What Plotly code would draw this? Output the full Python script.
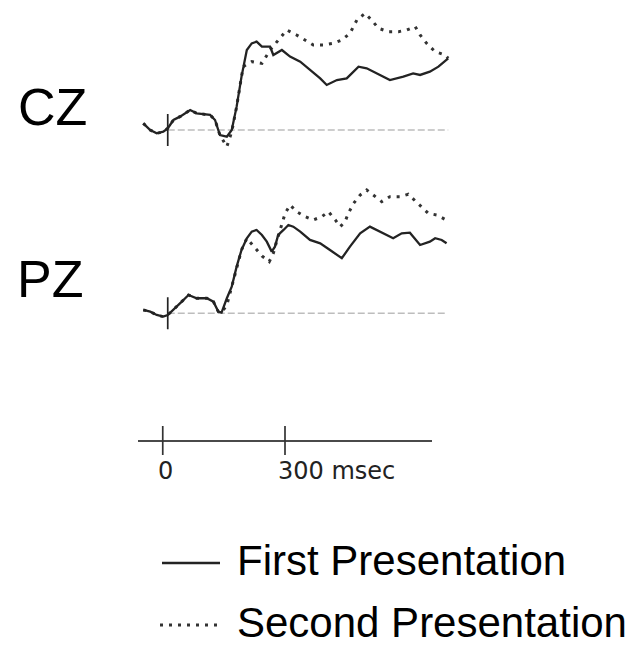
import plotly.graph_objects as go

# ---- ERP averages (time in ms relative to stimulus onset, amplitude in µV) ----
cz_t_first = [-60, -43, -27, -11, 0, 14, 30, 55, 71, 104, 116, 128, 145, 157, 169, 181,
              194, 206, 218, 231, 251, 259, 280, 300, 325, 349, 374, 390, 415, 439, 468,
              488, 513, 545, 578, 602, 619, 643, 664, 688]
cz_v_first = [0.83, 0.0, -0.42, -0.21, 0.21, 1.25, 1.67, 2.5, 2.08, 1.88, 1.25, -0.63, -0.83,
              0.0, 2.92, 6.67, 10.0, 10.83, 11.04, 10.42, 10.42, 9.38, 10.0, 9.17, 8.54, 7.5,
              6.46, 5.63, 6.25, 6.46, 7.92, 7.71, 7.08, 6.25, 6.67, 7.08, 6.88, 7.29, 7.92, 8.96]

cz_t_second = [-60, -43, -27, -11, 0, 14, 30, 55, 71, 104, 116, 128, 145, 157, 169, 181,
               185, 206, 231, 251, 271, 292, 316, 337, 357, 382, 406, 427, 447, 464, 484,
               500, 517, 541, 566, 586, 607, 619, 635, 656, 680, 688]
cz_v_second = [0.83, 0.0, -0.42, -0.21, 0.21, 1.25, 1.67, 2.5, 2.08, 1.88, 1.25, -0.63, -2.08,
               -0.21, 2.92, 6.67, 7.92, 8.54, 8.33, 10.0, 11.25, 12.5, 11.88, 11.25, 10.63,
               10.63, 10.83, 11.25, 12.08, 13.75, 14.58, 13.75, 12.71, 12.29, 12.29, 12.5,
               12.92, 11.88, 10.83, 9.79, 9.38, 8.96]

pz_t_first = [-60, -43, -27, -11, 0, 14, 30, 51, 71, 96, 112, 124, 132, 145, 157, 169, 181,
              194, 206, 218, 231, 243, 255, 263, 271, 284, 296, 308, 325, 349, 374, 398, 427,
              447, 472, 496, 521, 553, 574, 594, 619, 643, 656, 672, 684]
pz_v_first = [0.42, 0.21, -0.21, -0.42, -0.21, 0.42, 1.25, 2.29, 1.88, 1.88, 1.46, 0.21, 0.08,
              1.88, 3.33, 5.83, 7.92, 9.38, 10.21, 10.42, 9.79, 8.96, 7.71, 8.33, 9.79, 10.42,
              11.04, 10.83, 10.21, 9.17, 8.75, 7.92, 6.88, 8.33, 10.0, 10.83, 10.21, 9.38,
              10.0, 10.08, 8.54, 8.96, 9.38, 9.17, 8.75]

pz_t_second = [-60, -43, -27, -11, 0, 14, 30, 51, 71, 96, 112, 124, 132, 145, 157, 169, 181,
               194, 210, 231, 249, 259, 267, 280, 288, 300, 316, 337, 357, 378, 394, 411, 423,
               435, 443, 456, 472, 488, 504, 525, 545, 570, 590, 619, 639, 660, 680]
pz_v_second = [0.42, 0.21, -0.21, -0.42, -0.21, 0.42, 1.25, 2.29, 1.88, 1.88, 1.46, 0.21, 0.08,
               1.04, 3.33, 5.83, 7.92, 9.38, 8.42, 7.17, 6.46, 7.5, 8.96, 11.25, 12.5, 13.54,
               12.71, 12.08, 11.67, 12.08, 12.71, 11.67, 10.83, 11.46, 12.5, 13.75, 14.79,
               15.42, 14.79, 13.96, 14.58, 14.58, 14.88, 13.54, 12.5, 12.29, 11.75]

channels = ["CZ", "PZ"]
series_names = ["First Presentation", "Second Presentation"]
time_ticks = [0, 300]
time_tick_labels = ["0", "300 msec"]

W, H = 631, 647
INK = "#232323"


def px_x(p):
    return p / W


def px_y(p):
    return (H - p) / H


solid = dict(color=INK, width=2.3)
dotted = dict(color="#333333", width=3, dash="3px,6px")

fig = go.Figure()

# CZ panel (x / y)
fig.add_trace(go.Scatter(x=cz_t_second, y=cz_v_second, mode="lines", line=dotted,
                         name=series_names[1], xaxis="x", yaxis="y"))
fig.add_trace(go.Scatter(x=cz_t_first, y=cz_v_first, mode="lines", line=solid,
                         name=series_names[0], xaxis="x", yaxis="y"))
# PZ panel (x2 / y2)
fig.add_trace(go.Scatter(x=pz_t_second, y=pz_v_second, mode="lines", line=dotted,
                         name=series_names[1], xaxis="x2", yaxis="y2"))
fig.add_trace(go.Scatter(x=pz_t_first, y=pz_v_first, mode="lines", line=solid,
                         name=series_names[0], xaxis="x2", yaxis="y2"))
# time-scale axis (x3 / y3)
fig.add_trace(go.Scatter(x=[], y=[], xaxis="x3", yaxis="y3", hoverinfo="skip"))

hidden = dict(visible=False, showgrid=False, zeroline=False)
wave_x = dict(hidden, range=[-70, 700], domain=[px_x(139.2), px_x(453.1)])

shapes = []
annotations = []

for xr, yr, t_end in (("x", "y", cz_t_first[-1]), ("x2", "y2", pz_t_first[-1])):
    # zero-amplitude reference line
    shapes.append(dict(type="line", xref=xr, yref=yr, x0=0, x1=t_end, y0=0, y1=0,
                       line=dict(color="#bdbdbd", width=1.5, dash="7px,3px"), layer="below"))
    # stimulus onset marker
    shapes.append(dict(type="line", xref=xr, yref=yr, x0=0, x1=0, y0=-2, y1=2,
                       line=dict(color=INK, width=1.7)))

# time-scale ticks
for tv in time_ticks:
    shapes.append(dict(type="line", xref="x3", yref="paper", x0=tv, x1=tv,
                       y0=px_y(455), y1=px_y(426),
                       line=dict(color="#333333", width=1.7)))

# channel labels
for name, left, cy in zip(channels, [18, 17], [107.5, 278.5]):
    annotations.append(dict(text=name, xref="paper", yref="paper", x=px_x(left - 2),
                            y=px_y(cy), xanchor="left", yanchor="middle", showarrow=False,
                            font=dict(family="Liberation Sans, Arial", size=52, color="black")))

# time-scale labels
annotations.append(dict(text=time_tick_labels[0], xref="paper", yref="paper", x=px_x(165),
                        y=px_y(471), xanchor="center", yanchor="middle", showarrow=False,
                        font=dict(family="DejaVu Sans", size=24, color="#222222")))
annotations.append(dict(text=time_tick_labels[1], xref="paper", yref="paper", x=px_x(276),
                        y=px_y(471), xanchor="left", yanchor="middle", showarrow=False,
                        font=dict(family="DejaVu Sans", size=24, color="#222222")))

# key
for label, line_style, ly, x0 in zip(series_names, [solid, dotted], [563, 625], [162, 160]):
    shapes.append(dict(type="line", xref="paper", yref="paper", x0=px_x(x0), x1=px_x(220),
                       y0=px_y(ly), y1=px_y(ly), line=line_style))
    annotations.append(dict(text=label, xref="paper", yref="paper", x=px_x(235),
                            y=px_y(ly - 3), xanchor="left", yanchor="middle", showarrow=False,
                            font=dict(family="Liberation Sans, Arial", size=42, color="black")))

fig.update_layout(
    width=W, height=H,
    margin=dict(l=0, r=0, t=0, b=0),
    paper_bgcolor="white", plot_bgcolor="rgba(0,0,0,0)",
    showlegend=False,
    xaxis=wave_x,
    yaxis=dict(hidden, range=[-3, 15.5], domain=[px_y(154), px_y(6)]),
    xaxis2=dict(wave_x, anchor="y2"),
    yaxis2=dict(hidden, range=[-3, 16.5], domain=[px_y(337.3), px_y(181.3)]),
    xaxis3=dict(range=[-60, 660], domain=[px_x(138.3), px_x(431.7)], anchor="free",
                position=px_y(440.7), showline=True, linecolor="#4a4a4a", linewidth=1.5,
                showticklabels=False, ticks="", showgrid=False, zeroline=False),
    yaxis3=dict(hidden, range=[-1, 1], domain=[px_y(460), px_y(421)]),
    shapes=shapes,
    annotations=annotations,
)

fig.write_html("out.html")
